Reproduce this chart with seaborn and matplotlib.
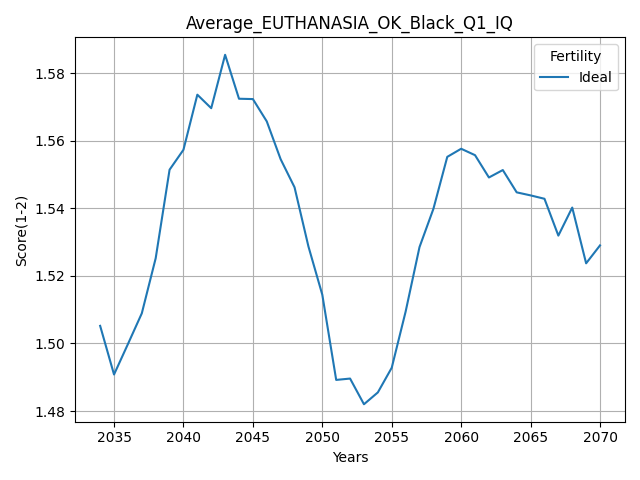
import matplotlib
matplotlib.use("Agg")
import matplotlib.pyplot as plt
import seaborn as sns
import pandas as pd

years = list(range(2034, 2071))
scores = [
    1.5052, 1.4908, 1.4998, 1.5089, 1.5252, 1.5514, 1.5573, 1.5736, 1.5696, 1.5854,
    1.5724, 1.5723, 1.5657, 1.5545, 1.5462, 1.5287, 1.5144, 1.4892, 1.4896, 1.4820,
    1.4855, 1.4928, 1.5094, 1.5285, 1.5398, 1.5552, 1.5576, 1.5557, 1.5491, 1.5513,
    1.5447, 1.5438, 1.5428, 1.5319, 1.5402, 1.5237, 1.5290,
]
fertility = ["Ideal"] * len(years)

df = pd.DataFrame({"Years": years, "Score(1-2)": scores, "Fertility": fertility})

fig, ax = plt.subplots(figsize=(6.4, 4.8), dpi=100)
sns.lineplot(data=df, x="Years", y="Score(1-2)", hue="Fertility", ax=ax)
ax.set_title("Average_EUTHANASIA_OK_Black_Q1_IQ")
ax.grid(True)
ax.legend(title="Fertility", loc="upper right")
plt.tight_layout()
plt.savefig("out.png", dpi=100)
plt.close()
